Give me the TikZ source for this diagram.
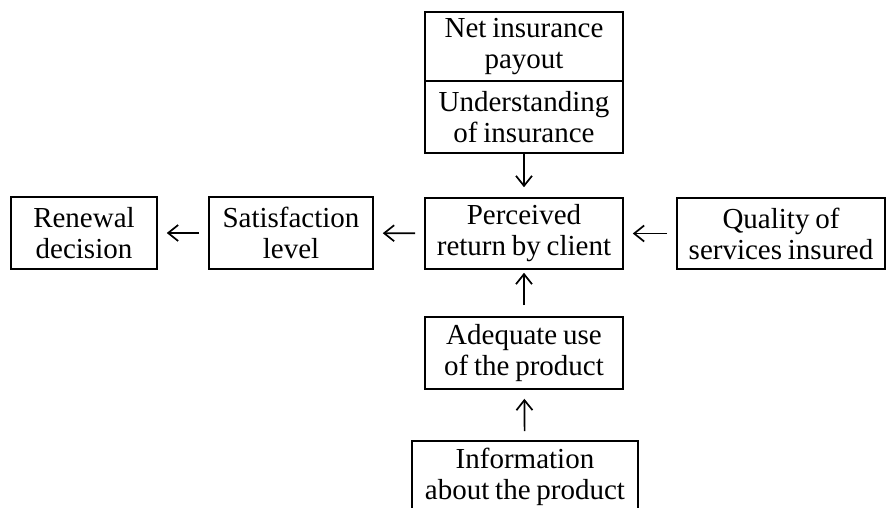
\documentclass[tikz,border=0pt]{standalone}
\usepackage{fontspec}
\setmainfont{Liberation Serif}[WordSpace={0.8,0.3,0.2}]
\usetikzlibrary{arrows.meta}
\tikzset{
  box/.style = {draw, line width=1.6pt, align=center, inner sep=0pt,
    minimum height=71pt, font=\fontsize{29}{31}\selectfont},
  arr/.style = {-{Straight Barb[length=10pt,width=16pt]}, line width=1.7pt,
    shorten <=9pt, shorten >=9pt}
}
\begin{document}
\begin{tikzpicture}[x=1pt, y=-1pt]
	\useasboundingbox (0,0) rectangle (887,508);
	% middle column
	\node[box, minimum width=198pt, minimum height=69pt] (net) at (524,46.5) {Net insurance\\payout};
	\node[box, minimum width=198pt, minimum height=72pt] (und) at (524,117) {Understanding\\of insurance};
	\node[box, minimum width=198pt] (perc) at (524,233.5) {Perceived\\return by client};
	\node[box, minimum width=198pt, minimum height=72pt] (adeq) at (524,353) {Adequate use\\of the product};
	\node[box, minimum width=226pt] (info) at (525,476.5) {Information\\about the product};
	% left and right
	\node[box, minimum width=164pt, minimum height=72pt] (sat) at (291,233) {Satisfaction\\level};
	\node[box, minimum width=146pt, minimum height=72pt] (ren) at (84,233) {Renewal\\decision};
	\node[box, minimum width=208pt] (qual) at (781,233.5) {Quality of\\services insured};
	% arrows
	\draw[arr, shorten <=0pt, shorten >=10pt] (und) -- (perc);
	\draw[arr] (qual) -- (perc);
	\draw[arr] (perc) -- (sat);
	\draw[arr] (sat) -- (ren);
	\draw[arr, shorten <=11pt, shorten >=3pt] (adeq) -- (perc);
	\draw[arr] (info) -- (adeq);
\end{tikzpicture}
\end{document}
